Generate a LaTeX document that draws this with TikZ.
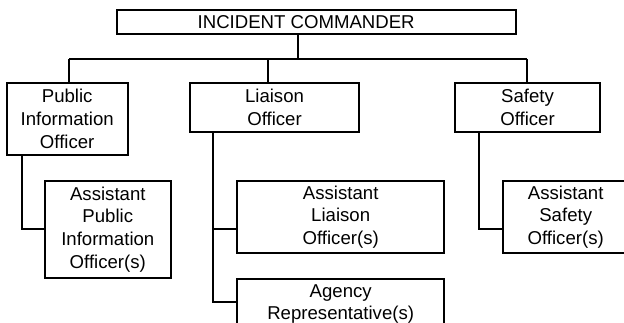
\documentclass[tikz,border=0pt]{standalone}
\usepackage{fontspec}
\setmainfont{Liberation Sans}

\begin{document}
\begin{tikzpicture}[x=1pt,y=-1pt,line width=1.8pt,
  box/.style={draw,rectangle,inner sep=0pt,align=center,
    font=\fontsize{18.6}{22.8}\selectfont}]
  \useasboundingbox (0,0) rectangle (624,323);
  \clip (0,0) rectangle (624,323);

  % command staff
  \node[box,minimum width=398.7,minimum height=24.3] (ic) at (316.7,22.2) {INCIDENT COMMANDER\hspace*{21pt}};
  \node[box,minimum width=121,minimum height=72.3] (pio) at (67.2,118.8) {Public\\Information\\Officer};
  \node[box,minimum width=169,minimum height=49.6] (liaison) at (274.5,107.5) {Liaison\\Officer};
  \node[box,minimum width=145,minimum height=49.6] (safety) at (527.5,107.5) {Safety\\Officer};

  % assistants
  \node[box,minimum width=125.7,minimum height=97.6] (apio) at (107.8,229.5) {Assistant\\Public\\Information\\Officer(s)};
  \node[box,minimum width=206.7,minimum height=72.6] (alo) at (340.7,217) {Assistant\\Liaison\\Officer(s)};
  \node[box,minimum width=206.7,minimum height=49.6] (agency) at (340.7,304.1) {Agency\\Representative(s)};
  \node[box,minimum width=126,minimum height=72.6] (aso) at (565.7,217) {Assistant\\Safety\\Officer(s)};

  % bus below the commander
  \coordinate (icdrop) at (298.3,59);
  \coordinate (busL) at (69,59);
  \coordinate (busM) at (268.3,59);
  \coordinate (busR) at (527.3,59);
  \draw (ic.south -| icdrop) -- (icdrop);
  \draw (busL) -- (busR);
  \draw (busL) -- (busL |- pio.north);
  \draw (busM) -- (busM |- liaison.north);
  \draw (busR) -- (busR |- safety.north);

  % side branches
  \coordinate (pioturn) at (21.7,229.3);
  \coordinate (liaturn) at (213.3,229.3);
  \coordinate (agturn) at (213.3,301.7);
  \coordinate (safturn) at (479.3,229.3);
  \draw (pio.south -| pioturn) |- (apio.west |- pioturn);
  \draw (liaison.south -| agturn) |- (agency.west |- agturn);
  \draw (liaturn) -- (alo.west |- liaturn);
  \draw (safety.south -| safturn) |- (aso.west |- safturn);
\end{tikzpicture}
\end{document}
